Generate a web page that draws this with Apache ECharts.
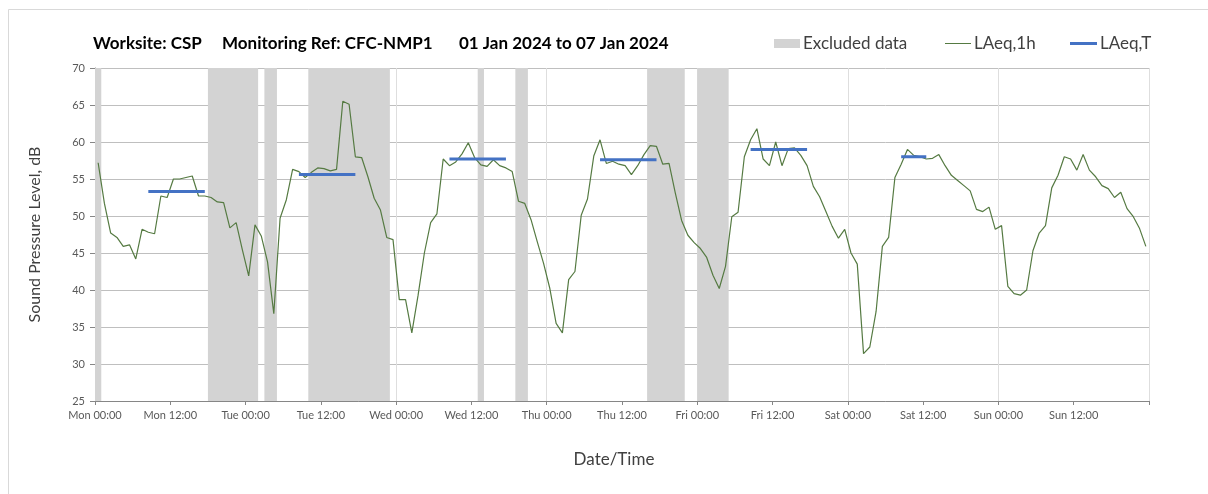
<!DOCTYPE html>
<html>
<head>
<meta charset="utf-8">
<script src="https://cdn.jsdelivr.net/npm/echarts@6/dist/echarts.min.js"></script>
<style>
  html, body { margin: 0; padding: 0; background: #ffffff; }
  #chart { width: 1208px; height: 494px; }
</style>
</head>
<body>
<div id="chart"></div>
<script>
// Hourly LAeq,1h levels (dB), Mon 00:00 to Sun 23:00, one value per hour
const hourlyLevels = [
  57.2, 51.7, 47.7, 47.1, 45.9, 46.1, 44.2, 48.2, 47.8, 47.6, 52.7, 52.5,
  55.0, 55.0, 55.2, 55.4, 52.7, 52.7, 52.5, 51.9, 51.8, 48.4, 49.1, 45.4,
  41.9, 48.8, 47.3, 43.8, 36.8, 49.7, 52.2, 56.3, 56.0, 55.2, 55.9, 56.5,
  56.4, 56.1, 56.3, 65.5, 65.1, 58.0, 57.9, 55.3, 52.4, 50.8, 47.1, 46.8,
  38.7, 38.7, 34.2, 39.3, 45.0, 49.1, 50.3, 57.7, 56.8, 57.3, 58.4, 59.9,
  57.9, 56.9, 56.7, 57.6, 56.8, 56.5, 56.0, 52.0, 51.7, 49.5, 46.5, 43.6,
  40.2, 35.5, 34.2, 41.4, 42.5, 50.1, 52.3, 58.1, 60.3, 57.1, 57.4, 57.0,
  56.8, 55.6, 56.8, 58.3, 59.5, 59.4, 57.0, 57.1, 53.1, 49.4, 47.4, 46.4,
  45.6, 44.4, 42.0, 40.2, 43.2, 49.9, 50.5, 58.0, 60.3, 61.8, 57.7, 56.8,
  60.0, 56.8, 59.1, 59.2, 58.2, 56.8, 54.0, 52.6, 50.6, 48.6, 47.0, 48.2,
  45.0, 43.5, 31.4, 32.3, 37.1, 45.9, 47.1, 55.2, 57.0, 59.0, 58.2, 58.0,
  57.7, 57.8, 58.3, 56.8, 55.5, 54.8, 54.1, 53.4, 50.9, 50.6, 51.2, 48.2,
  48.7, 40.5, 39.5, 39.3, 40.0, 45.3, 47.7, 48.7, 53.8, 55.5, 58.0, 57.7,
  56.2, 58.3, 56.2, 55.3, 54.1, 53.7, 52.5, 53.2, 51.0, 49.9, 48.3, 45.9
];

// Daytime LAeq,T periods: first hour, last hour, level (dB)
const periodFirstHour = [8, 32, 56, 80, 104, 128];
const periodLastHour  = [17, 41, 65, 89, 113, 132];
const periodLevel     = [53.3, 55.6, 57.7, 57.6, 59.0, 58.0];

// Excluded data windows, hours from Mon 00:00
const excludedStart = [0, 18, 27, 34, 61, 67, 88, 96];
const excludedEnd   = [1, 26, 29, 47, 62, 69, 94, 101];

// Axis labels
const dayNames = ['Mon', 'Tue', 'Wed', 'Thu', 'Fri', 'Sat', 'Sun'];
const yTicks = { min: 25, max: 70, step: 5 };

// Header parts
const headerParts = ['Worksite: CSP', 'Monitoring Ref: CFC-NMP1', '01 Jan 2024 to 07 Jan 2024'];

// Each hourly value plotted at the middle of its hour
const hourlySeries = hourlyLevels.map((v, i) => [i + 0.5, v]);

const periodSeries = [];
periodLevel.forEach((lv, k) => {
  periodSeries.push([periodFirstHour[k] + 0.5, lv]);
  periodSeries.push([periodLastHour[k] + 0.5, lv]);
  periodSeries.push([periodLastHour[k] + 0.5, '-']);
});

const excludedAreas = excludedStart.map((s, k) => [{ xAxis: s }, { xAxis: excludedEnd[k] }]);

const FONT = 'Lato, "Open Sans", sans-serif';
const labelColor = '#595959';
const GREEN = '#557a42';
const BLUE = '#4472c4';
const BAND = '#d3d3d3';

const headerLeft = [93, 222, 459];
const headerTop = 35;
const legendText = { fontFamily: FONT, fontSize: 17, color: '#404040', padding: [0, 0, 0, -2] };

const chart = echarts.init(document.getElementById('chart'), null, { renderer: 'canvas' });

chart.setOption({
  animation: false,
  backgroundColor: '#ffffff',
  textStyle: { fontFamily: FONT },
  graphic: [{
    type: 'rect',
    left: 6, top: 7,
    shape: { width: 1230, height: 520 },
    style: { fill: 'none', stroke: '#d9d9d9', lineWidth: 1 },
    silent: true, z: -10
  }],
  title: headerParts.map((t, k) => ({
    text: t,
    left: headerLeft[k], top: headerTop, padding: 0,
    textStyle: { fontFamily: FONT, fontSize: 17, fontWeight: 'bold', color: '#000000' }
  })),
  legend: [{
    left: 774, top: headerTop, padding: 0,
    itemWidth: 26, itemHeight: 9,
    textStyle: legendText,
    data: [{ name: 'Excluded data', icon: 'rect', itemStyle: { color: BAND, borderWidth: 0 } }]
  }, {
    left: 945, top: headerTop, padding: 0,
    itemWidth: 26, itemHeight: 1,
    textStyle: legendText,
    data: [{ name: 'LAeq,1h', icon: 'rect', itemStyle: { color: GREEN, borderWidth: 0 } }]
  }, {
    left: 1070, top: headerTop, padding: 0,
    itemWidth: 27, itemHeight: 3,
    textStyle: legendText,
    data: [{ name: 'LAeq,T', icon: 'rect', itemStyle: { color: BLUE, borderWidth: 0 } }]
  }],
  grid: { left: 95, right: 59, top: 68, bottom: 93, containLabel: false },
  xAxis: [{
    type: 'value', min: 0, max: 168, interval: 12,
    position: 'bottom',
    name: 'Date/Time', nameLocation: 'middle', nameGap: 50,
    nameTextStyle: { fontFamily: FONT, fontSize: 17, color: '#404040', padding: [0, 16, 0, 0] },
    axisLine: { show: true, lineStyle: { color: '#868686', width: 1 } },
    axisTick: { show: true, length: 4, lineStyle: { color: '#868686' } },
    axisLabel: {
      fontFamily: FONT, fontSize: 11, color: labelColor, margin: 9,
      formatter: v => (v >= 168 ? '' : dayNames[Math.floor(v / 24)] + ' ' + (v % 24 === 0 ? '00:00' : '12:00'))
    },
    splitLine: { show: false }
  }, {
    type: 'value', min: 0, max: 168, interval: 24,
    position: 'bottom',
    axisLine: { show: false }, axisTick: { show: false }, axisLabel: { show: false },
    splitLine: { show: true, lineStyle: { color: '#dedede', width: 1 } }
  }],
  yAxis: {
    type: 'value', min: yTicks.min, max: yTicks.max, interval: yTicks.step,
    name: 'Sound Pressure Level, dB', nameLocation: 'middle', nameGap: 52,
    nameTextStyle: { fontFamily: FONT, fontSize: 16, color: '#404040' },
    axisLine: { show: true, lineStyle: { color: '#868686', width: 1 } },
    axisTick: { show: true, length: 5, lineStyle: { color: '#868686' } },
    axisLabel: { fontFamily: FONT, fontSize: 11, color: labelColor, margin: 10 },
    splitLine: { show: true, lineStyle: { color: '#bfbfbf', width: 1 } }
  },
  series: [{
    name: 'Excluded data',
    type: 'line',
    xAxisIndex: 0,
    data: [],
    color: BAND,
    z: -1,
    silent: true,
    markArea: {
      silent: true,
      itemStyle: { color: BAND, borderWidth: 0 },
      data: excludedAreas
    }
  }, {
    name: 'LAeq,1h',
    type: 'line',
    xAxisIndex: 0,
    data: hourlySeries,
    symbol: 'none',
    color: GREEN,
    lineStyle: { color: GREEN, width: 1.2 },
    z: 3
  }, {
    name: 'LAeq,T',
    type: 'line',
    xAxisIndex: 0,
    data: periodSeries,
    symbol: 'none',
    connectNulls: false,
    color: BLUE,
    lineStyle: { color: BLUE, width: 3 },
    z: 4
  }]
});
</script>
</body>
</html>
